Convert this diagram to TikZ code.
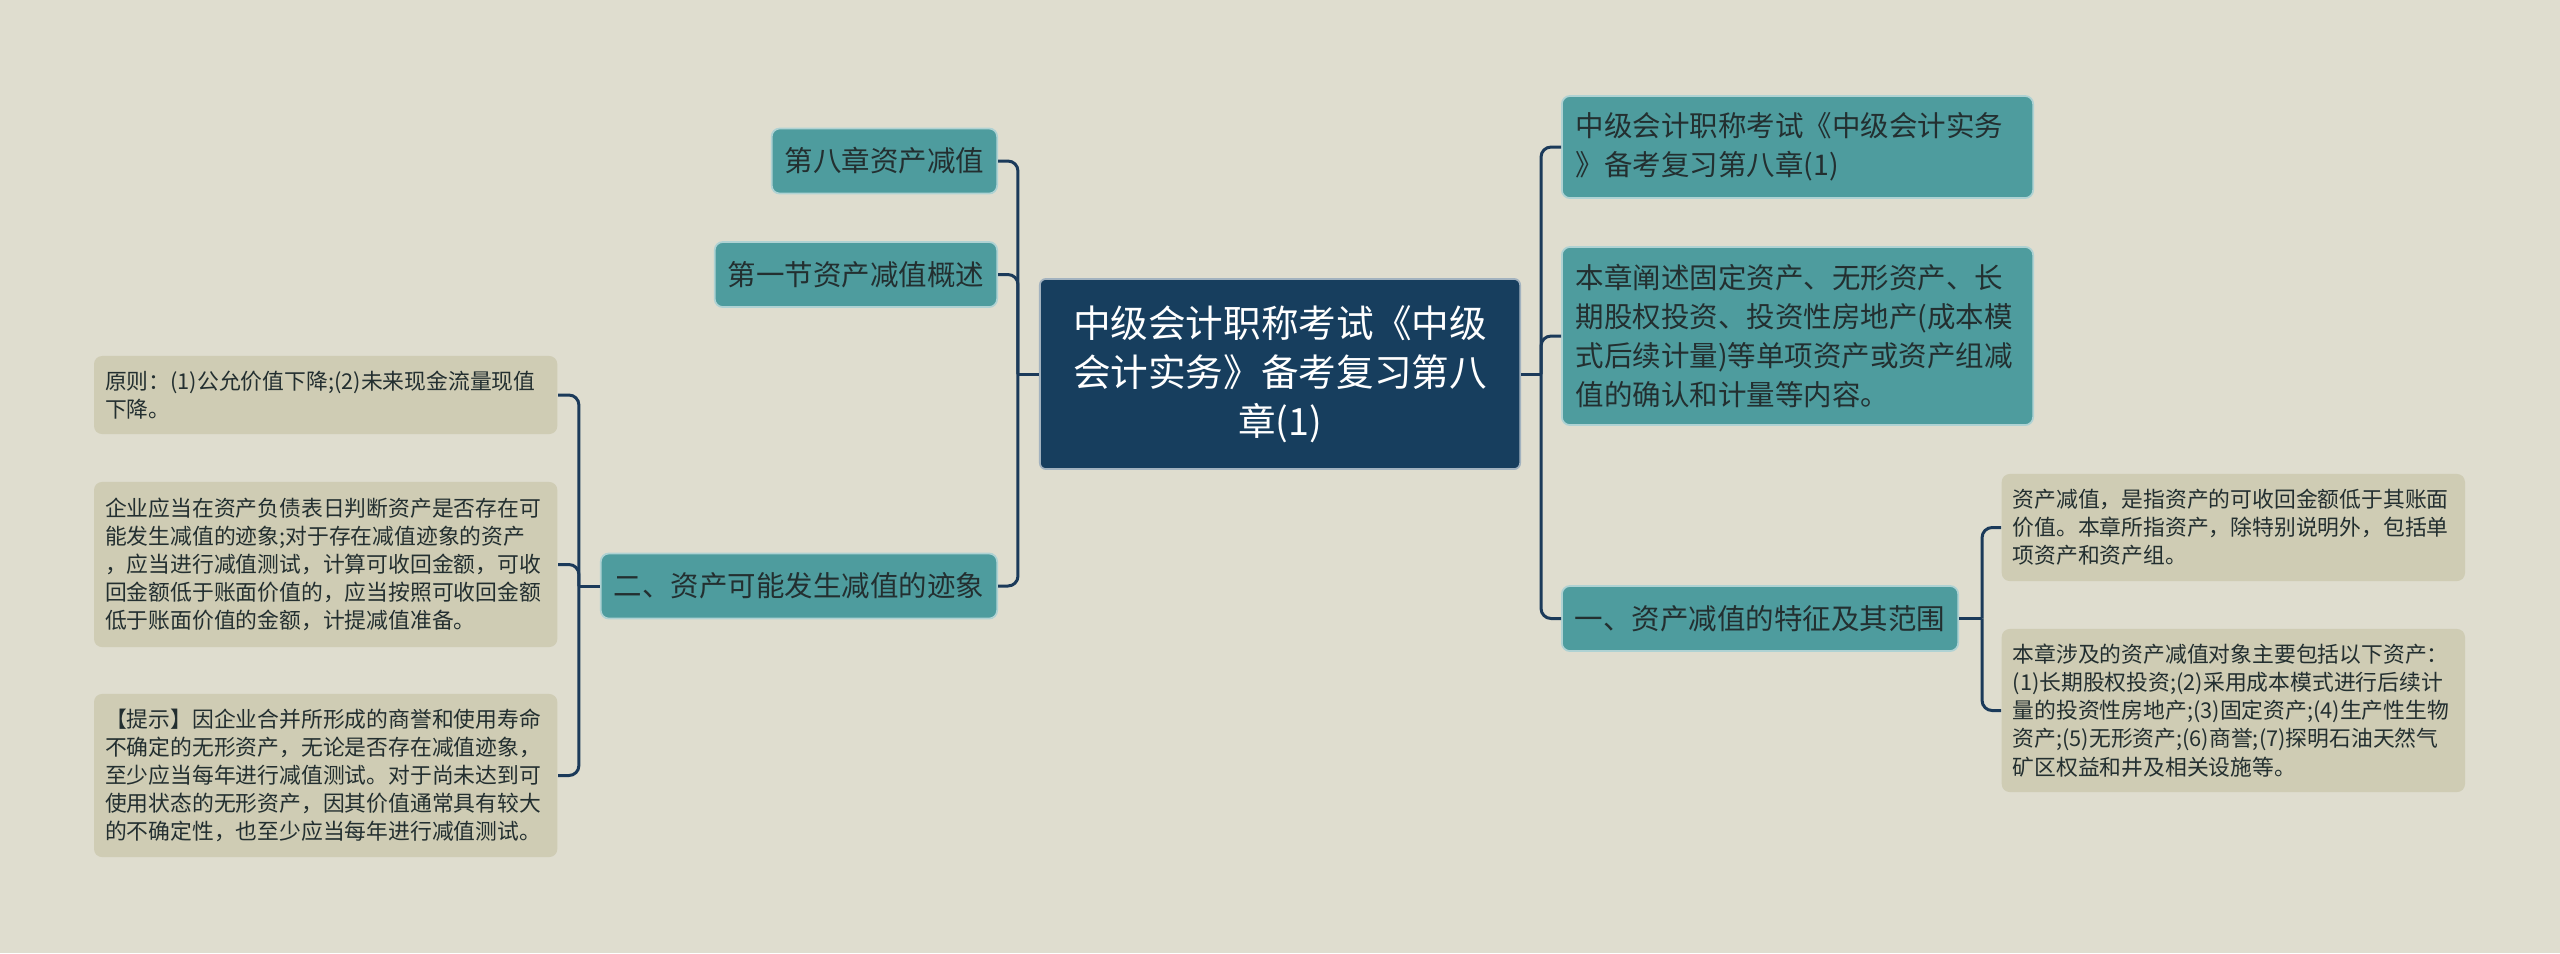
\documentclass[tikz,border=0pt]{standalone}
\usepackage{fontspec}
\setmainfont{Noto Sans CJK SC}
\usepackage{tikz}
\usetikzlibrary{positioning}
\definecolor{bgpaper}{HTML}{DFDDCF}
\definecolor{rootblue}{HTML}{173E5E}
\definecolor{topicteal}{HTML}{4E9C9E}
\definecolor{leafgray}{HTML}{CFCCB4}
\definecolor{linkblue}{HTML}{1B3A5A}
\definecolor{inkdark}{HTML}{232F30}

\begin{document}
\begin{tikzpicture}[x=0.01cm, y=-0.01cm,
    root/.style={fill=rootblue, draw=white!60!rootblue, line width=0.5pt, rounded corners=0.06cm,
      text=white, align=center, font=\fontsize{10.7pt}{14pt}\selectfont,
      minimum width=4.8cm, minimum height=1.9cm, inner sep=0pt},
    topic/.style={fill=topicteal, draw=white!55!topicteal, line width=0.5pt, rounded corners=0.08cm,
      text=inkdark, font=\fontsize{8.1pt}{11pt}\selectfont, inner xsep=0.13cm, minimum height=0.65cm},
    leaf/.style={fill=leafgray, rounded corners=0.08cm, text=inkdark, align=left,
      font=\fontsize{6.2pt}{8pt}\selectfont, text width=4.41cm, inner xsep=0.11cm},
    link/.style={draw=linkblue, line width=0.85pt, rounded corners=0.1cm}]

    \useasboundingbox[fill=bgpaper] (0,0) rectangle (2560,953);

    \node[root] (root) at (1280,374) {中级会计职称考试《中级\\会计实务》备考复习第八\\章(1)};

    % left branch
    \node[topic, anchor=east] (c8) at (998,161) {第八章资产减值};
    \node[topic, anchor=east] (c1) at (998,274.5) {第一节资产减值概述};
    \node[topic, anchor=east] (c2) at (998,586) {二、资产可能发生减值的迹象};

    \node[leaf, anchor=east, minimum height=0.78cm] (p1) at (558,395) {原则：(1)公允价值下降;(2)未来现金流量现值\\下降。};
    \node[leaf, anchor=east, minimum height=1.65cm] (p2) at (558,564.5) {企业应当在资产负债表日判断资产是否存在可\\能发生减值的迹象;对于存在减值迹象的资产\\，应当进行减值测试，计算可收回金额，可收\\回金额低于账面价值的，应当按照可收回金额\\低于账面价值的金额，计提减值准备。};
    \node[leaf, anchor=east, minimum height=1.63cm] (p3) at (558,775.5) {【提示】因企业合并所形成的商誉和使用寿命\\不确定的无形资产，无论是否存在减值迹象，\\至少应当每年进行减值测试。对于尚未达到可\\使用状态的无形资产，因其价值通常具有较大\\的不确定性，也至少应当每年进行减值测试。};

    % right branch
    \node[topic, anchor=west, text width=4.43cm, align=left, inner xsep=0.14cm, minimum height=1.02cm] (r1) at (1561,147) {中级会计职称考试《中级会计实务\\》备考复习第八章(1)};
    \node[topic, anchor=west, text width=4.43cm, align=left, inner xsep=0.14cm, minimum height=1.78cm] (r2) at (1561,336) {本章阐述固定资产、无形资产、长\\期股权投资、投资性房地产(成本模\\式后续计量)等单项资产或资产组减\\值的确认和计量等内容。};
    \node[topic, anchor=west] (r3) at (1561,618.5) {一、资产减值的特征及其范围};

    \node[leaf, anchor=west, minimum height=1.07cm] (q1) at (2001,527.5) {资产减值，是指资产的可收回金额低于其账面\\价值。本章所指资产，除特别说明外，包括单\\项资产和资产组。};
    \node[leaf, anchor=west, minimum height=1.63cm] (q2) at (2001,710.5) {本章涉及的资产减值对象主要包括以下资产：\\(1)长期股权投资;(2)采用成本模式进行后续计\\量的投资性房地产;(3)固定资产;(4)生产性生物\\资产;(5)无形资产;(6)商誉;(7)探明石油天然气\\矿区权益和井及相关设施等。};

    % connectors
    \coordinate[left=0.21cm of root.west] (lj);
    \coordinate[right=0.2cm of root.east] (rj);
    \coordinate[left=0.21cm of c2.west] (pj);
    \coordinate[right=0.23cm of r3.east] (qj);

    \draw[link] (lj) -- (root.west);
    \foreach \c in {c8,c1,c2}
        \draw[link] (lj) |- (\c.east);
    \draw[link] (root.east) -- (rj);
    \foreach \c in {r1,r2,r3}
        \draw[link] (rj) |- (\c.west);
    \draw[link] (pj) -- (c2.west);
    \foreach \c in {p1,p2,p3}
        \draw[link] (pj) |- (\c.east);
    \draw[link] (r3.east) -- (qj);
    \foreach \c in {q1,q2}
        \draw[link] (qj) |- (\c.west);

\end{tikzpicture}
\end{document}
